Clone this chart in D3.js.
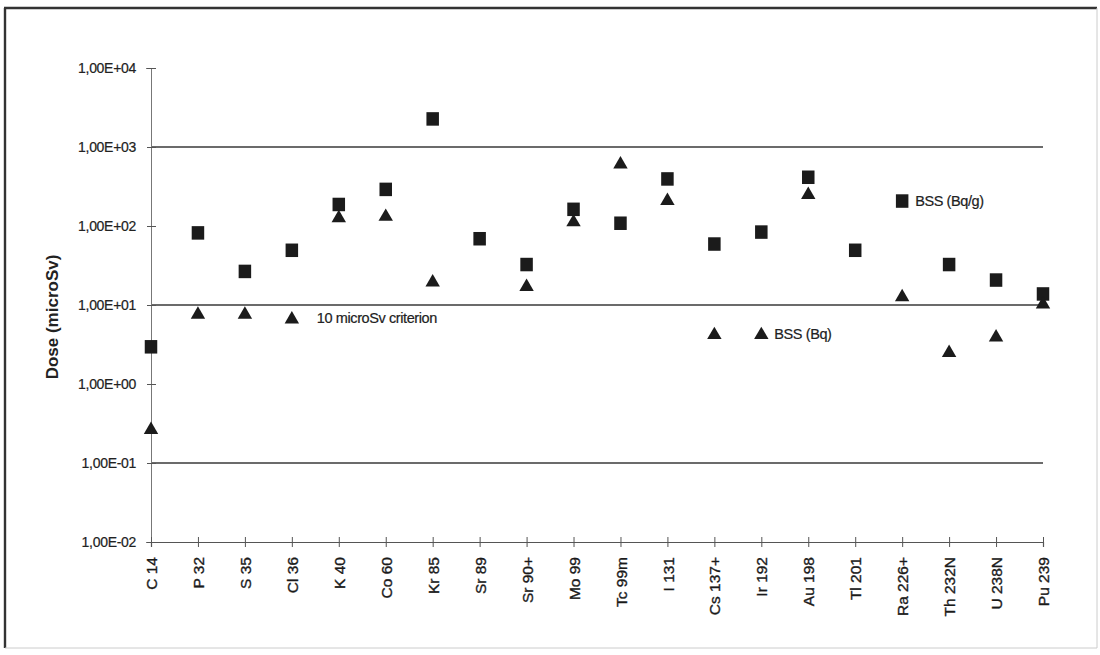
<!DOCTYPE html>
<html>
<head>
<meta charset="utf-8">
<script src="https://cdn.jsdelivr.net/npm/d3@7"></script>
<style>
  html, body { margin: 0; padding: 0; background: #fff; }
  svg { display: block; font-family: "Liberation Sans", Arial, sans-serif; }
</style>
</head>
<body>
<svg id="chart" width="1100" height="655"></svg>
<script>
// ---------------- data ----------------
const categories = ["C 14", "P 32", "S 35", "Cl 36", "K 40", "Co 60", "Kr 85", "Sr 89", "Sr 90+", "Mo 99",
  "Tc 99m", "I 131", "Cs 137+", "Ir 192", "Au 198", "Tl 201", "Ra 226+", "Th 232N", "U 238N", "Pu 239"];
// BSS (Bq/g) – squares
const bssBqPerG = [3.0, 83, 27, 50, 190, 295, 2300, 70, 33, 165, 110, 400, 60, 85, 420, 50, 210, 33, 21, 14];
// BSS (Bq) – triangles
const bssBq = [0.27, 7.8, 7.8, 6.8, 130, 135, 20, null, 17.5, 115, 620, 215, 4.3, 4.3, 255, null, 13, 2.55, 4.0, 10.5];
const yTickValues = [1e-2, 1e-1, 1e0, 1e1, 1e2, 1e3, 1e4];
const yTickLabels = ["1,00E-02", "1,00E-01", "1,00E+00", "1,00E+01", "1,00E+02", "1,00E+03", "1,00E+04"];
const gridValues = [1e-1, 1e1, 1e3];
// point labels: [category, series, text]
const pointLabels = [
  ["Cl 36", "tri", "10 microSv criterion"],
  ["Ir 192", "tri", "BSS (Bq)"],
  ["Ra 226+", "sq", "BSS (Bq/g)"]
];
const yTitle = "Dose (microSv)";

// ---------------- chart ----------------
const svg = d3.select("#chart");
const plotLeft = 151, plotRight = 1043, plotTop = 68, plotBottom = 542;

const x = d3.scalePoint().domain(categories).range([plotLeft, plotRight]).padding(0);
const y = d3.scaleLog().domain([1e-2, 1e4]).range([plotBottom, plotTop]);

// outer frame
svg.append("line").attr("x1", 5).attr("x2", 5).attr("y1", 8).attr("y2", 648).attr("stroke", "#333").attr("stroke-width", 2.4);
svg.append("line").attr("x1", 4).attr("x2", 1097).attr("y1", 8).attr("y2", 8).attr("stroke", "#333").attr("stroke-width", 2.4);
svg.append("line").attr("x1", 1097).attr("x2", 1097).attr("y1", 8).attr("y2", 648).attr("stroke", "#ccc").attr("stroke-width", 1);
svg.append("line").attr("x1", 5).attr("x2", 1097).attr("y1", 648).attr("y2", 648).attr("stroke", "#ccc").attr("stroke-width", 1);

// gridlines
svg.append("g").selectAll("line").data(gridValues).join("line")
  .attr("x1", plotLeft).attr("x2", plotRight)
  .attr("y1", d => y(d)).attr("y2", d => y(d))
  .attr("stroke", "#3a3a3a").attr("stroke-width", 1.3);

// y axis
const yAxis = d3.axisLeft(y).tickValues(yTickValues)
  .tickFormat((d, i) => yTickLabels[i]).tickSize(5).tickPadding(10);
const gy = svg.append("g").attr("transform", `translate(${plotLeft},0)`).call(yAxis);
gy.select(".domain").attr("stroke", "#777").attr("stroke-width", 1);
gy.selectAll(".tick line").attr("stroke", "#555").attr("x1", -4).attr("x2", 5);
gy.selectAll(".tick text").attr("font-size", 14).attr("fill", "#222")
  .attr("stroke", "#222").attr("stroke-width", 0.2)
  .attr("font-family", "'Liberation Sans', Arial, sans-serif").attr("letter-spacing", "-0.3");

// x axis
const xAxis = d3.axisBottom(x).tickSize(5).tickPadding(12);
const gx = svg.append("g").attr("transform", `translate(0,${plotBottom})`).call(xAxis);
gx.select(".domain").attr("stroke", "#555").attr("stroke-width", 1.2);
gx.selectAll(".tick line").attr("stroke", "#555").attr("y1", -5).attr("y2", 5);
gx.selectAll(".tick text")
  .attr("font-size", 15.5).attr("fill", "#1a1a1a")
  .attr("stroke", "#1a1a1a").attr("stroke-width", 0.35)
  .attr("font-family", "'Liberation Sans', Arial, sans-serif")
  .attr("text-anchor", "end")
  .attr("transform", "rotate(-90)")
  .attr("x", -15).attr("y", 0).attr("dy", "0.36em");

// y title
svg.append("text")
  .attr("transform", `translate(52,${317}) rotate(-90)`)
  .attr("text-anchor", "middle").attr("dy", "0.35em")
  .attr("font-size", 17).attr("font-weight", "bold").attr("fill", "#222")
  .text(yTitle);

// squares
const sq = 12.5;
svg.append("g").selectAll("rect")
  .data(categories.map((c, i) => ({ c, v: bssBqPerG[i] })).filter(d => d.v != null))
  .join("rect")
  .attr("x", d => x(d.c) - sq / 2).attr("y", d => y(d.v) - sq / 2)
  .attr("width", sq).attr("height", sq + 1)
  .attr("fill", "#1b1b1b");

// triangles
const tri = d3.symbol().type(d3.symbolTriangle).size(90);
svg.append("g").selectAll("path")
  .data(categories.map((c, i) => ({ c, v: bssBq[i] })).filter(d => d.v != null))
  .join("path")
  .attr("d", tri)
  .attr("transform", d => `translate(${x(d.c)},${y(d.v) + 1})`)
  .attr("fill", "#1b1b1b");

// point labels
svg.append("g").selectAll("text").data(pointLabels).join("text")
  .attr("x", d => x(d[0]) + (d[2].startsWith("10") ? 25 : 13))
  .attr("y", d => {
    const i = categories.indexOf(d[0]);
    return y(d[1] === "sq" ? bssBqPerG[i] : bssBq[i]);
  })
  .attr("dy", "0.36em")
  .attr("font-size", 14.5).attr("letter-spacing", "-0.4").attr("fill", "#222")
  .attr("stroke", "#222").attr("stroke-width", 0.2)
  .text(d => d[2]);
</script>
</body>
</html>
